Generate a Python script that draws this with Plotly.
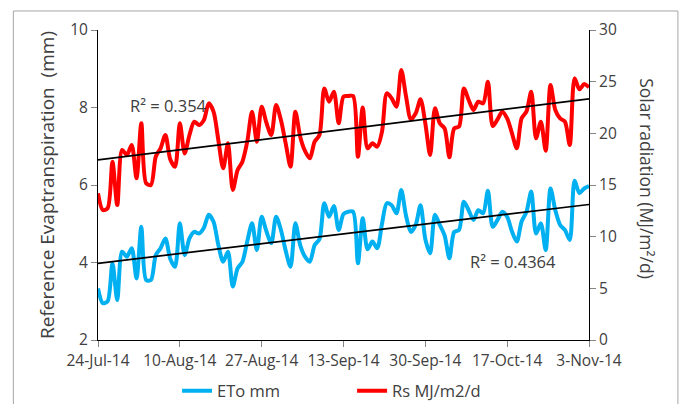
import numpy as np
import pandas as pd
import plotly.graph_objects as go

start_date = "2014-07-24"
eto_mm = [3.33, 2.95, 3.00, 3.98, 3.03, 4.28, 4.15, 4.37, 3.59, 4.92,
          3.55, 3.55, 4.19, 4.37, 4.62, 4.10, 3.89, 5.01, 4.19, 4.62,
          4.79, 4.75, 4.90, 5.23, 5.05, 4.45, 4.02, 4.28, 3.38, 3.85,
          4.02, 4.54, 5.01, 4.32, 5.18, 4.80, 4.50, 5.18, 4.84, 4.30,
          3.89, 5.01, 4.45, 4.15, 4.02, 4.45, 4.60, 5.53, 5.18, 5.46,
          4.84, 5.25, 5.31, 5.31, 3.98, 5.14, 4.34, 4.54, 4.37, 5.00,
          5.53, 5.48, 5.27, 5.87, 5.20, 4.79, 4.97, 5.48, 4.60, 4.24,
          5.23, 4.97, 4.70, 4.11, 4.79, 4.84, 5.57, 5.35, 5.10, 5.35,
          5.27, 5.85, 4.92, 5.10, 5.31, 5.18, 4.80, 4.54, 5.06, 5.30,
          5.83, 4.75, 5.01, 4.32, 5.91, 5.35, 4.97, 4.84, 4.58, 6.11,
          5.79, 5.91, 5.97]
rs_mj = [14.20, 12.58, 12.74, 17.26, 13.06, 18.39, 17.90, 18.87, 15.65, 20.97,
         15.16, 15.00, 17.74, 18.55, 19.84, 17.50, 16.77, 20.97, 18.06, 19.84,
         21.13, 20.81, 21.29, 22.90, 22.10, 19.35, 16.61, 19.03, 14.52, 16.45,
         17.26, 19.19, 22.10, 19.19, 22.58, 21.00, 19.84, 22.74, 21.29, 19.00,
         16.77, 22.10, 19.68, 18.30, 17.58, 19.19, 19.84, 24.35, 23.06, 24.03,
         20.97, 23.55, 23.61, 23.61, 17.74, 22.51, 18.55, 19.03, 18.71, 20.16,
         23.87, 23.39, 22.58, 26.13, 23.55, 21.35, 21.94, 23.29, 20.97, 17.90,
         22.42, 20.97, 20.48, 17.68, 20.48, 20.65, 24.35, 23.23, 22.26, 23.06,
         22.90, 25.00, 20.71, 21.35, 22.10, 21.45, 20.00, 18.55, 21.45, 22.10,
         24.03, 19.52, 21.13, 18.32, 24.68, 22.26, 21.45, 21.13, 18.87, 25.32,
         24.26, 24.77, 24.45]
tick_dates = ["2014-07-24", "2014-08-10", "2014-08-27", "2014-09-13",
              "2014-09-30", "2014-10-17", "2014-11-03"]
tick_text = ["24-Jul-14", "10-Aug-14", "27-Aug-14", "13-Sep-14",
             "30-Sep-14", "17-Oct-14", "3-Nov-14"]
r2_eto = "R² = 0.4364"
r2_rs = "R² = 0.354"

dates = pd.date_range(start_date, periods=len(eto_mm), freq="D")
day_idx = np.arange(len(eto_mm))

def trend(vals):
    k, b = np.polyfit(day_idx, vals, 1)
    return k * day_idx + b

FONT = "Open Sans"
TXT = "#404040"
BLUE = "#00B0F0"
RED = "#FF0000"

fig = go.Figure()
fig.add_trace(go.Scatter(x=dates, y=eto_mm, mode="lines", name="ETo mm",
                         line=dict(color=BLUE, width=4, shape="spline", smoothing=0.8)))
fig.add_trace(go.Scatter(x=dates, y=rs_mj, mode="lines", name="Rs MJ/m2/d", yaxis="y2",
                         line=dict(color=RED, width=4, shape="spline", smoothing=0.8)))
fig.add_trace(go.Scatter(x=dates, y=trend(eto_mm), mode="lines", showlegend=False,
                         line=dict(color="black", width=1.7)))
fig.add_trace(go.Scatter(x=dates, y=trend(rs_mj), mode="lines", showlegend=False, yaxis="y2",
                         line=dict(color="black", width=1.7)))

axis_common = dict(showgrid=False, zeroline=False, showline=True, linecolor="black",
                   linewidth=1, ticks="outside", ticklen=6, tickcolor="#868686",
                   automargin=False,
                   tickfont=dict(family=FONT, size=15.5, color=TXT))

fig.update_layout(
    width=681, height=404,
    margin=dict(l=98, r=92, t=30, b=64),
    paper_bgcolor="white", plot_bgcolor="white",
    font=dict(family=FONT, color=TXT),
    xaxis=dict(type="date", range=[tick_dates[0], tick_dates[-1]],
               tickvals=tick_dates, ticktext=tick_text, **axis_common),
    yaxis=dict(range=[2, 10], tickvals=[2, 4, 6, 8, 10],
               title=dict(text="Reference Evaptranspiration  (mm)",
                          font=dict(family=FONT, size=19, color=TXT), standoff=10),
               **axis_common),
    yaxis2=dict(range=[0, 30], tickvals=[0, 5, 10, 15, 20, 25, 30], overlaying="y",
                side="right", **axis_common),
    legend=dict(orientation="h", xref="container", yref="container",
                x=0.517, xanchor="center", y=0.032, yanchor="middle",
                font=dict(family=FONT, size=16.5, color=TXT), entrywidth=130,
                bgcolor="rgba(0,0,0,0)"),
    showlegend=True,
)

fig.add_annotation(text="Solar radiation (MJ/m²/d)", xref="paper", yref="paper",
                   x=1.148, y=0.52, textangle=90, showarrow=False,
                   font=dict(family=FONT, size=17.5, color=TXT))
fig.add_annotation(text=r2_rs, xref="paper", yref="paper", x=0.0617, y=0.758,
                   xanchor="left", yanchor="middle", showarrow=False,
                   font=dict(family=FONT, size=16.5, color=TXT))
fig.add_annotation(text=r2_eto, xref="paper", yref="paper", x=0.7537, y=0.2548,
                   xanchor="left", yanchor="middle", showarrow=False,
                   font=dict(family=FONT, size=16.5, color=TXT))

# outer chart border (left, top, right)
fig.add_shape(type="path", xref="paper", yref="paper",
              path="M -0.1724,-0.3 L -0.1724,1.0613 L 1.1811,1.0613 L 1.1811,-0.3",
              line=dict(color="#A6A6A6", width=1))

fig.write_html("out.html", config={"displayModeBar": False},
               post_script="document.body.style.margin='0';document.body.style.padding='0';")
